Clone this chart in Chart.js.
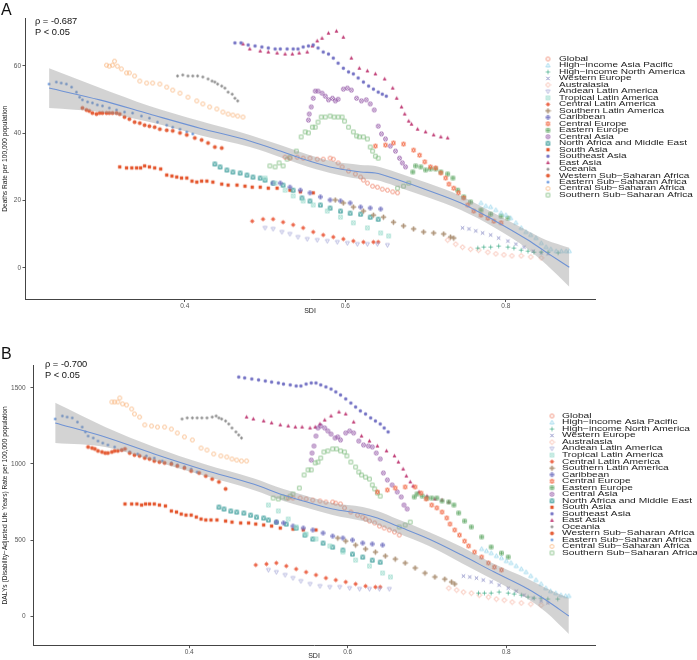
<!DOCTYPE html>
<html>
<head>
<meta charset="utf-8">
<script src="https://cdn.jsdelivr.net/npm/chart.js@4.4.1/dist/chart.umd.min.js"></script>
<style>
  html, body { margin: 0; padding: 0; background: #fff; }
  #wrap { position: relative; width: 697px; height: 660px; }
  canvas { position: absolute; left: 0; top: 0; }
</style>
</head>
<body>
<div id="wrap">
  <canvas id="chartA" width="697" height="660"></canvas>
  <canvas id="chartB" width="697" height="660"></canvas>
</div>
<script>
// ---- data (SDI, deaths rate, DALYs rate per 100,000) ----
const regionNames = ['Global', 'High\u2212income Asia Pacific', 'High\u2212income North America', 'Western Europe',
  'Australasia', 'Andean Latin America', 'Tropical Latin America', 'Central Latin America',
  'Southern Latin America', 'Caribbean', 'Central Europe', 'Eastern Europe', 'Central Asia',
  'North Africa and Middle East', 'South Asia', 'Southeast Asia', 'East Asia', 'Oceania',
  'Western Sub\u2212Saharan Africa', 'Eastern Sub\u2212Saharan Africa', 'Central Sub\u2212Saharan Africa',
  'Southern Sub\u2212Saharan Africa'];

const xTicks = [0.4, 0.6, 0.8];
const deathsTicks = [0, 20, 40, 60];
const dalysTicks = [0, 500, 1000, 1500];

const globalSdi = [0.525,0.531,0.54,0.5475,0.556,0.565,0.5725,0.581,0.585,0.591,0.596,0.604,0.6125,0.619,0.6225,0.6275,0.634,0.64,0.646,0.6525,0.659,0.665];
const globalDeaths = [32.9,32.6,32.9,32.6,32.6,32.3,32.3,32.6,32.3,31.2,30.0,28.8,27.9,27.0,26.1,25.2,24.3,24.0,23.4,23.1,22.6,22.3];
const globalDalys = [776,776,776,770,763,757,750,750,743,737,711,684,664,651,638,625,612,592,579,566,553,533];

const hiapSdi = [0.769,0.775,0.781,0.7875,0.794,0.8,0.806,0.8125,0.819,0.825,0.831,0.8375,0.844,0.85,0.856,0.8625,0.869,0.875,0.879];
const hiapDeaths = [19.3,18.4,18.1,17.2,16.3,15.7,14.8,13.4,11.9,10.7,9.8,8.9,7.4,6.2,5.6,5.0,5.0,5.0,5.0];
const hiapDalys = [441,428,414,395,382,362,349,329,309,289,263,237,211,184,164,151,138,132,132];

const hinaSdi = [0.765,0.7725,0.781,0.791,0.8025,0.81,0.819,0.8275,0.835,0.844,0.8525,0.865];
const hinaDeaths = [5.9,6.2,6.2,6.5,6.2,5.9,5.3,5.0,4.7,4.7,4.7,4.5];
const hinaDalys = [151,151,151,158,151,145,138,125,118,118,112,112];

const weSdi = [0.746,0.754,0.7625,0.771,0.781,0.791,0.8025,0.8125,0.8225,0.834,0.844,0.8525];
const weDeaths = [11.9,11.6,11.0,10.4,9.8,8.9,8.0,7.1,6.2,5.0,4.5,4.2];
const weDalys = [263,257,250,237,224,204,184,164,138,118,99,86];

const ausSdi = [0.7275,0.7375,0.746,0.756,0.766,0.7775,0.7875,0.7975,0.8075,0.819,0.831,0.844];
const ausDeaths = [8.3,7.1,6.2,5.6,5.3,4.7,4.2,3.9,3.6,3.6,3.3,3.0];
const ausDalys = [184,171,158,151,138,125,112,105,92,86,79,72];

const alaSdi = [0.5,0.51,0.521,0.531,0.541,0.5525,0.565,0.5775,0.59,0.6025,0.615,0.6275,0.64,0.6525];
const alaDeaths = [11.9,11.6,10.7,10.1,9.2,8.6,8.3,8.0,7.7,7.4,7.1,7.1,7.1,6.8];
const alaDalys = [303,289,270,250,230,211,197,191,191,184,178,178,178,178];

const tlaSdi = [0.5,0.5125,0.525,0.535,0.5475,0.56,0.5775,0.594,0.61,0.6275,0.644,0.654];
const tlaDeaths = [26.7,25.2,23.1,21.4,19.9,18.7,16.9,15.1,13.4,11.9,10.4,9.5];
const tlaDalys = [730,691,638,586,539,507,461,421,368,329,283,257];

const claSdi = [0.484,0.4975,0.51,0.5225,0.535,0.5475,0.56,0.5725,0.585,0.5975,0.61,0.6225,0.635,0.641];
const claDeaths = [13.9,14.5,14.5,13.6,12.8,11.9,10.7,9.8,9.2,8.6,8.0,7.7,7.7,7.7];
const claDalys = [336,342,349,329,309,289,270,250,237,224,211,197,191,191];

const slaSdi = [0.5875,0.5975,0.61,0.6225,0.635,0.6475,0.66,0.6725,0.685,0.6975,0.71,0.7225,0.731,0.735];
const slaDeaths = [20.2,19.3,18.1,16.9,15.7,15.1,13.6,12.5,11.6,10.7,10.4,10.1,9.2,8.9];
const slaDalys = [513,493,467,441,421,395,375,349,316,283,257,243,224,211];

const caribSdi = [0.51,0.519,0.531,0.544,0.556,0.569,0.581,0.594,0.606,0.619,0.631,0.644];
const caribDeaths = [25.2,25.2,24.0,23.1,22.3,21.1,20.2,19.9,19.3,18.1,17.8,17.5];
const caribDalys = [618,612,592,579,566,546,526,513,500,480,474,467];

const ceSdi = [0.6375,0.65,0.66,0.6725,0.685,0.6925,0.699,0.706,0.7125,0.719,0.725,0.729,0.735,0.741,0.7475,0.7525,0.76,0.769,0.7775,0.785,0.794];
const ceDeaths = [36.2,36.5,37.1,36.8,35.0,33.5,31.5,30.0,29.7,28.2,26.7,24.9,23.7,22.3,20.8,18.7,16.9,15.7,14.8,13.9,13.4];
const ceDalys = [816,829,842,849,849,809,770,730,711,684,645,605,566,533,493,461,421,388,349,322,303];

const eeSdi = [0.684,0.6875,0.694,0.7,0.706,0.7125,0.719,0.7275,0.734,0.74,0.7475,0.756,0.769,0.781,0.794,0.8025];
const eeDeaths = [28.5,30.3,30.0,29.1,29.4,29.4,28.5,27.9,26.7,23.1,21.1,19.6,17.2,16.0,15.4,14.8];
const eeDalys = [783,803,789,776,776,776,757,750,730,678,625,586,520,454,414,388];

const caSdi = [0.554,0.555,0.5575,0.56,0.5625,0.566,0.571,0.575,0.579,0.584,0.5875,0.591,0.5975,0.6025,0.6075,0.614,0.62,0.626,0.631,0.636,0.641,0.645,0.65,0.656,0.6625,0.6675,0.671,0.675];
const caDeaths = [43.9,45.7,47.8,50.4,52.5,52.5,51.9,51.0,49.9,50.4,49.6,50.1,53.1,53.4,52.8,50.4,49.6,49.9,48.7,46.9,42.1,39.8,38.3,36.2,34.7,32.6,31.2,30.0];
const caDalys = [1026,1072,1118,1184,1237,1250,1237,1217,1197,1171,1178,1158,1204,1217,1204,1151,1125,1118,1112,1072,1033,941,895,862,816,783,730,704];

const nameSdi = [0.4375,0.444,0.4525,0.46,0.469,0.4775,0.485,0.494,0.5,0.51,0.5225,0.535,0.546,0.556,0.569,0.581,0.594,0.606,0.619,0.631,0.641];
const nameDeaths = [30.9,30.0,29.1,28.5,28.2,27.6,27.0,26.7,26.1,25.2,24.6,23.1,20.8,19.9,18.7,17.8,16.9,16.3,16.0,15.1,14.5];
const nameDalys = [717,704,691,684,678,664,651,645,632,618,605,579,533,507,480,454,434,408,388,368,355];

const saSdi = [0.319,0.3275,0.334,0.34,0.345,0.35,0.356,0.3625,0.37,0.3775,0.384,0.39,0.396,0.4025,0.409,0.415,0.421,0.4275,0.435,0.446,0.454,0.465,0.475,0.484,0.494,0.504,0.515,0.531,0.544,0.56];
const saDeaths = [30.0,29.7,29.7,29.7,29.7,30.3,30.0,29.7,29.4,27.6,27.3,27.0,26.7,26.7,25.8,25.5,25.8,25.8,25.5,24.9,24.6,24.6,24.3,24.0,24.0,23.7,23.7,23.1,22.6,22.3];
const saDalys = [737,737,737,730,737,737,737,730,724,691,684,671,664,664,651,638,632,632,632,625,618,612,612,605,599,592,579,572,566,566];

const seaSdi = [0.4625,0.47,0.479,0.4875,0.496,0.504,0.5125,0.519,0.5275,0.535,0.541,0.5475,0.554,0.56,0.566,0.5725,0.579,0.585,0.591,0.5975,0.604,0.61,0.616,0.6225,0.629,0.635,0.641,0.646,0.651];
const seaDeaths = [66.8,66.8,66.2,65.9,65.6,65.3,65.0,65.0,65.0,65.0,65.0,65.6,65.9,66.2,65.3,64.1,63.5,62.3,60.8,59.3,58.2,57.6,56.4,55.2,54.0,53.1,52.2,51.6,51.0];
const seaDalys = [1572,1566,1559,1553,1546,1539,1533,1526,1520,1513,1513,1526,1533,1533,1520,1507,1493,1474,1454,1428,1401,1375,1349,1329,1303,1283,1263,1237,1211];

const eaSdi = [0.4725,0.481,0.494,0.504,0.515,0.525,0.534,0.5425,0.5525,0.559,0.565,0.571,0.579,0.589,0.5975,0.6075,0.6175,0.6275,0.6375,0.649,0.659,0.664,0.67,0.674,0.679,0.6825,0.69,0.7,0.71,0.719,0.7275];
const eaDeaths = [66.5,65.0,64.4,64.1,63.8,63.5,63.5,63.8,64.1,65.9,67.4,68.2,69.7,70.3,68.5,62.3,59.3,58.5,57.6,56.1,53.4,50.4,47.8,45.7,43.6,42.7,41.2,40.4,39.5,38.9,38.6];
const eaDalys = [1309,1296,1283,1270,1257,1250,1243,1243,1237,1243,1263,1289,1316,1342,1329,1276,1184,1151,1118,1086,1053,1013,967,921,882,855,816,789,770,763,750];

const oceSdi = [0.391,0.3975,0.404,0.41,0.416,0.4225,0.429,0.434,0.4375,0.441,0.446,0.45,0.454,0.459,0.4625,0.466];
const oceDeaths = [57.0,57.3,57.0,57.0,57.0,56.7,56.1,55.5,55.2,54.6,54.0,53.4,52.2,51.6,50.4,49.6];
const oceDalys = [1296,1303,1303,1303,1303,1303,1309,1316,1303,1296,1283,1263,1237,1211,1191,1171];

const wssaSdi = [0.2725,0.2775,0.281,0.285,0.29,0.294,0.2975,0.3025,0.306,0.31,0.315,0.319,0.325,0.331,0.3375,0.344,0.35,0.356,0.3625,0.369,0.3775,0.385,0.394,0.4025,0.4125,0.421,0.429,0.4375,0.446];
const wssaDeaths = [47.5,46.9,46.6,46.0,45.7,46.0,46.0,46.0,46.0,46.0,46.0,45.7,44.8,44.2,43.3,43.0,42.4,42.1,41.8,41.2,40.9,40.7,40.1,39.5,38.6,38.0,37.1,35.9,35.6];
const wssaDalys = [1112,1105,1099,1086,1079,1072,1072,1079,1086,1086,1092,1099,1072,1059,1053,1039,1033,1020,1013,1007,1000,987,974,954,941,921,901,882,836];

const essaSdi = [0.231,0.24,0.246,0.2525,0.259,0.265,0.269,0.2725,0.279,0.285,0.291,0.2975,0.306,0.315,0.325,0.335,0.346,0.356,0.366,0.3775,0.385,0.394,0.4025,0.41];
const essaDeaths = [54.6,55.2,54.9,54.6,53.7,52.2,50.7,49.9,49.3,49.0,48.4,48.1,47.5,46.9,46.3,46.0,45.1,44.5,43.3,42.4,41.8,41.2,40.4,39.8];
const essaDalys = [1296,1316,1309,1303,1276,1243,1211,1184,1171,1151,1138,1125,1112,1092,1079,1066,1053,1039,1020,1007,993,980,967,947];

const cssaSdi = [0.3025,0.306,0.31,0.3125,0.316,0.321,0.3275,0.331,0.3375,0.344,0.3525,0.36,0.369,0.3775,0.385,0.394,0.404,0.415,0.4225,0.431,0.44,0.4475,0.454,0.46,0.466,0.4725];
const cssaDeaths = [60.2,59.9,60.2,61.4,59.9,59.1,57.9,57.9,57.0,55.5,54.9,54.9,54.6,53.7,52.8,51.9,50.7,49.6,48.7,47.8,47.2,46.3,45.7,45.4,45.1,44.8];
const cssaDalys = [1408,1408,1408,1434,1395,1388,1362,1329,1309,1257,1250,1243,1243,1230,1204,1178,1158,1105,1092,1066,1053,1046,1033,1026,1020,1020];

const sssaSdi = [0.506,0.5125,0.5175,0.5225,0.5275,0.531,0.539,0.545,0.55,0.554,0.559,0.5625,0.566,0.57,0.575,0.581,0.586,0.591,0.596,0.599,0.604,0.61,0.614,0.6175,0.6225,0.6275,0.631,0.634,0.6375,0.641,0.665,0.6725,0.679];
const sssaDeaths = [30.3,30.0,31.2,30.3,32.3,32.9,34.7,38.9,40.4,40.1,41.8,41.8,43.3,44.8,44.8,45.1,44.8,44.8,44.8,43.6,41.8,40.4,39.2,38.9,38.9,38.3,35.9,34.7,33.2,32.6,23.7,24.3,25.2];
const sssaDalys = [776,770,783,776,789,803,842,928,961,961,1007,1013,1039,1079,1086,1099,1099,1086,1079,1053,1013,980,947,928,914,901,862,836,809,789,586,599,618];

// loess fit with 95% band
const fitSdi = [0.231,0.294,0.356,0.419,0.481,0.519,0.544,0.581,0.619,0.6375,0.6625,0.7025,0.744,0.785,0.8275,0.85,0.879];
const fitDeaths = [53.4,49.9,45.7,41.5,37.7,34.7,32.6,30.0,28.5,28.2,26.4,23.1,19.3,14.2,8.3,4.7,0.2];
const fitDeathsLo = [47.5,46.3,43.3,39.4,35.9,32.9,30.8,28.2,26.4,26.1,24.3,21.0,17.2,12.1,5.6,1.1,-5.6];
const fitDeathsHi = [59.3,53.5,48.1,43.6,39.5,36.5,34.4,31.8,30.6,30.3,28.5,25.2,21.4,16.3,11.0,8.3,6.0];
const fitDalys = [1270,1178,1066,961,868,796,757,704,671,645,592,507,401,289,178,105,0];
const fitDalysLo = [1138,1112,1020,922,829,757,718,665,625,599,546,461,348,236,112,26,-118];
const fitDalysHi = [1402,1244,1112,1000,907,835,796,743,717,691,638,553,454,342,244,184,118];

// ---- assembly ----
const sdiByRegion = [globalSdi, hiapSdi, hinaSdi, weSdi, ausSdi, alaSdi, tlaSdi, claSdi, slaSdi, caribSdi, ceSdi, eeSdi,
  caSdi, nameSdi, saSdi, seaSdi, eaSdi, oceSdi, wssaSdi, essaSdi, cssaSdi, sssaSdi];
const deathsByRegion = [globalDeaths, hiapDeaths, hinaDeaths, weDeaths, ausDeaths, alaDeaths, tlaDeaths, claDeaths, slaDeaths,
  caribDeaths, ceDeaths, eeDeaths, caDeaths, nameDeaths, saDeaths, seaDeaths, eaDeaths, oceDeaths, wssaDeaths, essaDeaths,
  cssaDeaths, sssaDeaths];
const dalysByRegion = [globalDalys, hiapDalys, hinaDalys, weDalys, ausDalys, alaDalys, tlaDalys, claDalys, slaDalys,
  caribDalys, ceDalys, eeDalys, caDalys, nameDalys, saDalys, seaDalys, eaDalys, oceDalys, wssaDalys, essaDalys,
  cssaDalys, sssaDalys];

const regionColors = ['#EE7A5E', '#8ED2EA', '#4FB391', '#6E72B8', '#F4A08A', '#A7A9D8', '#9ADBCB', '#EA5435',
  '#A38566', '#6D6DBE', '#F26A45', '#5FA865', '#8E4FA2', '#3E9E9C', '#E4572E', '#7472C4', '#C2437A', '#8E8E8E',
  '#E5603A', '#4F86D9', '#F7B176', '#7DBB7E'];

const FONT = '"Liberation Sans", Arial, sans-serif';
Chart.defaults.font.family = FONT;

// ggplot shapes 1..22 drawn as small canvases
function makeGlyph(shape, color) {
  const cv = document.createElement('canvas');
  cv.width = 7; cv.height = 7;
  const g = cv.getContext('2d');
  const c = 3.5, r = 1.95;
  g.strokeStyle = color; g.fillStyle = color; g.lineWidth = 0.8;
  const poly = pts => { g.beginPath(); pts.forEach((p, i) => i ? g.lineTo(c + p[0], c + p[1]) : g.moveTo(c + p[0], c + p[1])); g.closePath(); };
  const circle = rr => { g.beginPath(); g.arc(c, c, rr, 0, Math.PI * 2); };
  const seg = (x1, y1, x2, y2) => { g.beginPath(); g.moveTo(c + x1, c + y1); g.lineTo(c + x2, c + y2); g.stroke(); };
  const up = rr => [[0, -rr * 1.1], [rr, rr * 0.75], [-rr, rr * 0.75]];
  const dn = rr => [[0, rr * 1.1], [rr, -rr * 0.75], [-rr, -rr * 0.75]];
  const sq = rr => [[-rr, -rr], [rr, -rr], [rr, rr], [-rr, rr]];
  const dia = rr => [[0, -rr], [rr, 0], [0, rr], [-rr, 0]];
  const plus = rr => { seg(-rr, 0, rr, 0); seg(0, -rr, 0, rr); };
  const cross = rr => { seg(-rr, -rr, rr, rr); seg(-rr, rr, rr, -rr); };
  switch (shape) {
    case 1: circle(r); g.stroke(); break;
    case 2: poly(up(r)); g.stroke(); break;
    case 3: plus(r * 1.1); break;
    case 4: cross(r * 0.85); break;
    case 5: poly(dia(r * 1.2)); g.stroke(); break;
    case 6: poly(dn(r)); g.stroke(); break;
    case 7: poly(sq(r * 0.9)); g.stroke(); cross(r * 0.9); break;
    case 8: plus(r * 1.1); cross(r * 0.8); break;
    case 9: poly(dia(r * 1.2)); g.stroke(); plus(r * 1.2); break;
    case 10: circle(r); g.stroke(); plus(r); break;
    case 11: poly(up(r)); g.stroke(); poly(dn(r)); g.stroke(); break;
    case 12: poly(sq(r * 0.9)); g.stroke(); plus(r * 0.9); break;
    case 13: circle(r); g.stroke(); cross(r * 0.72); break;
    case 14: poly(sq(r * 0.9)); g.stroke(); poly([[0, -r * 0.9], [r * 0.9, r * 0.9], [-r * 0.9, r * 0.9]]); g.stroke(); break;
    case 15: poly(sq(r * 0.85)); g.fill(); break;
    case 16: circle(r * 0.85); g.fill(); break;
    case 17: poly(up(r)); g.fill(); break;
    case 18: poly(dia(r * 0.9)); g.fill(); break;
    case 19: circle(r); g.fill(); break;
    case 20: circle(r * 0.65); g.fill(); break;
    case 21: circle(r); g.stroke(); break;
    case 22: poly(sq(r * 0.9)); g.stroke(); break;
  }
  return cv;
}
const glyphs = regionColors.map((col, i) => makeGlyph(i + 1, col));

const pointsOf = (xs, ys) => xs.map((x, i) => ({ x: x, y: ys[i] }));

function buildDatasets(valuesByRegion, fit, lo, hi) {
  const sets = regionNames.map((name, i) => ({
    type: 'scatter', label: name, data: pointsOf(sdiByRegion[i], valuesByRegion[i]),
    pointStyle: glyphs[i], pointRadius: 3, order: 50
  }));
  sets.push({ type: 'line', data: pointsOf(fitSdi, hi), borderWidth: 0, pointRadius: 0, fill: false,
    cubicInterpolationMode: 'monotone', order: 10 });
  sets.push({ type: 'line', data: pointsOf(fitSdi, lo), borderWidth: 0, pointRadius: 0, fill: '-1',
    backgroundColor: 'rgba(150,150,150,0.42)', cubicInterpolationMode: 'monotone', order: 10 });
  sets.push({ type: 'line', data: pointsOf(fitSdi, fit), borderColor: '#6F93D5', borderWidth: 1.1, pointRadius: 0,
    fill: false, cubicInterpolationMode: 'monotone', order: 0 });
  return sets;
}

const extras = {
  id: 'extras',
  afterDraw(chart, args, o) {
    const ctx = chart.ctx;
    ctx.save();
    ctx.fillStyle = '#111';
    ctx.textBaseline = 'alphabetic';
    ctx.font = '16px ' + FONT;
    ctx.fillText(o.panel, o.panelX, o.panelY);
    ctx.font = '9.3px ' + FONT;
    ctx.fillText(o.rho, o.statX, o.statY);
    ctx.fillText('P < 0.05', o.statX, o.statY + 11);
    ctx.font = '6.8px ' + FONT;
    const sx = o.longWidth / ctx.measureText(regionNames[13]).width;
    ctx.textBaseline = 'middle';
    ctx.fillStyle = '#222';
    regionNames.forEach((name, i) => {
      const y = o.legendY + i * o.legendStep;
      const gl = glyphs[i];
      ctx.drawImage(gl, o.iconX - gl.width / 2, y - gl.height / 2);
      ctx.save();
      ctx.translate(o.textX, y);
      ctx.scale(sx, 1);
      ctx.fillText(name, 0, 0);
      ctx.restore();
    });
    ctx.restore();
  }
};

function makeChart(id, opts) {
  return new Chart(document.getElementById(id), {
    type: 'scatter',
    data: { datasets: buildDatasets(opts.values, opts.fit, opts.lo, opts.hi) },
    plugins: [extras],
    options: {
      responsive: false,
      animation: false,
      events: [],
      layout: { padding: opts.padding },
      plugins: { legend: { display: false }, tooltip: { enabled: false }, extras: opts.extras },
      scales: {
        x: {
          type: 'linear', min: opts.xMin, max: opts.xMax,
          afterBuildTicks: ax => { ax.ticks = xTicks.map(v => ({ value: v })); },
          afterFit: s => { s.height = opts.xHeight; },
          ticks: { font: { size: 6.5 }, color: '#555', padding: 0, maxRotation: 0, autoSkip: false,
            callback: v => v.toFixed(1) },
          grid: { display: true, drawOnChartArea: false, drawTicks: true, tickLength: 2.5, color: '#555' },
          border: { display: true, color: '#444', width: 1 },
          title: { display: true, text: 'SDI', font: { size: 7 }, color: '#222', padding: 0 }
        },
        y: {
          type: 'linear', min: opts.yMin, max: opts.yMax,
          afterBuildTicks: ax => { ax.ticks = opts.yTicks.map(v => ({ value: v })); },
          afterFit: s => { s.width = opts.yWidth; },
          ticks: { font: { size: 6.5 }, color: '#555', padding: opts.yTickPad, callback: v => String(v) },
          grid: { display: true, drawOnChartArea: false, drawTicks: true, tickLength: 2.5, color: '#555' },
          border: { display: true, color: '#444', width: 1 },
          title: { display: true, text: opts.yTitle, font: { size: 6.6 }, color: '#222', padding: { top: 1, bottom: 0 } }
        }
      }
    }
  });
}

makeChart('chartA', {
  values: deathsByRegion, fit: fitDeaths, lo: fitDeathsLo, hi: fitDeathsHi,
  padding: { left: 0, top: 18, right: 102, bottom: 345 },
  xMin: 0.201, xMax: 0.911, yMin: -9.35, yMax: 74.2, yTicks: deathsTicks,
  xHeight: 15.5, yWidth: 25, yTickPad: 1.5,
  yTitle: 'Deaths Rate per 100,000 population',
  extras: { panel: 'A', panelX: 1, panelY: 15, rho: '\u03C1 = -0.687', statX: 35, statY: 24,
    iconX: 548, textX: 559, legendY: 59, legendStep: 6.48, longWidth: 128 }
});

makeChart('chartB', {
  values: dalysByRegion, fit: fitDalys, lo: fitDalysLo, hi: fitDalysHi,
  padding: { left: 0, top: 365, right: 102, bottom: 0 },
  xMin: 0.203, xMax: 0.912, yMin: -195, yMax: 1651, yTicks: dalysTicks,
  xHeight: 14.3, yWidth: 33, yTickPad: 5,
  yTitle: 'DALYs (Disability\u2212Adjusted Life Years) Rate per 100,000 population',
  extras: { panel: 'B', panelX: 1, panelY: 358.5, rho: '\u03C1 = -0.700', statX: 45, statY: 367.3,
    iconX: 552, textX: 562, legendY: 416, legendStep: 6.52, longWidth: 130 }
});
</script>
</body>
</html>
